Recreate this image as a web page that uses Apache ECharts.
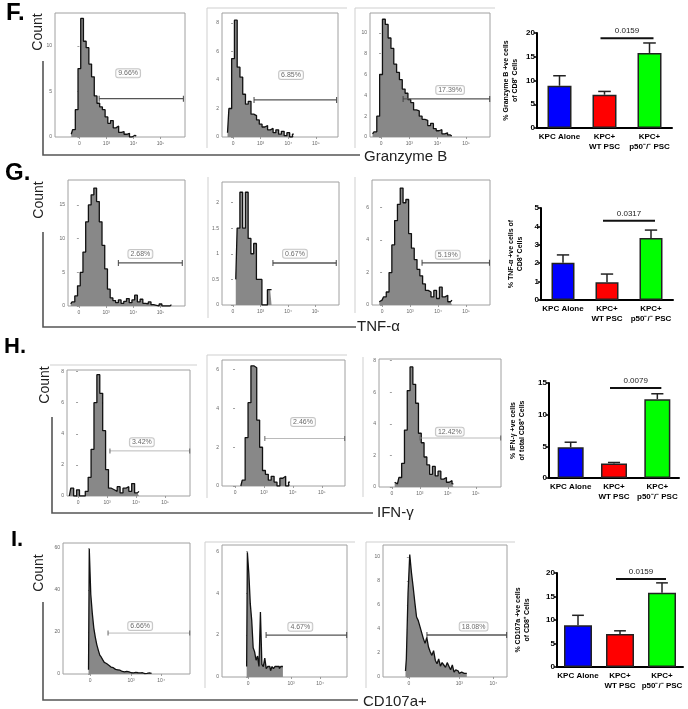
<!DOCTYPE html>
<html><head><meta charset="utf-8">
<script src="https://cdn.jsdelivr.net/npm/echarts@6/dist/echarts.min.js"></script>
<style>html,body{margin:0;padding:0;background:#fff}#c{width:688px;height:709px}</style>
</head><body><div id="c"></div>
<script>
// ================= DATA =================
// Histogram tick labels
const histTickLabels = ['0', '10³', '10⁴', '10⁵'];
const histTickLabelsI = ['0', '10³', '10⁴'];
const histTickPos = [0, 1, 2, 3];
const histTickPosI1 = [0, 1.37, 2.37];
const histTickPosI23 = [0, 1.48, 2.48];

// Histogram counts (bin start / bin width given separately)
const histF1 = [0.3,0.8,3,7.5,13,10.5,9.8,8,6.6,4.5,3.7,3.3,3,2.2,1.5,1.8,1,1.2,0.5,0.6,0.3,0.4,0,0.2,0.1];
const histF2 = [0.3,2,5.5,8.2,4.9,4.2,3,2.3,2.5,1.6,1.5,1.2,0.9,0.7,0.8,0.5,0.6,0.3,0.5,0.2,0.4,0.1,0.3,0,0.2];
const histF3 = [0.3,0.5,2,6,11.3,10.8,9.5,8.5,7,6.2,5.5,4.6,4.2,3.6,3.3,2.6,2.5,2.0,1.7,1.6,1.1,1.3,0.8,0.6,0.7,0.3,0.4,0.2,0.1];
const histG1 = [0.3,0.6,1.5,3,5,8,12.5,15,16.5,17.5,15.5,12.5,9,5.5,2.5,1.2,0.8,0.5,0.9,0.4,0.7,1.1,0.5,0.9,1.6,0.6,1.0,0.4,0.3,0.6,0.2,0.1,0,0.3,0,0,0,0.2];
const histG2 = [0.5,1.5,2.2,1.5,2.2,1.3,1,1.2,0.5,0.5,0,0,0.3,0.3];
const histG3 = [0.2,0.3,0.5,0.8,2,3.7,5.2,6.2,7.2,6.3,6.5,4.4,3.5,2.8,2.2,1.8,1.3,0.9,0.8,0.5,0.9,0.4,1.1,0.5,0.6,0.2,0.3];
const histH1 = [0,0.5,0,0.4,0,0,0.3,1.2,3,6,7.8,6.6,4.2,1.7,0.5,0.4,0.3,0.6,0.2,0.5,0.6,0.3,0.8,0.2,0.3];
const histH2 = [0,0.3,2.5,4.3,6.2,6.1,3.4,2,0.8,0.6,0.3,0.5,0.2,0,0.4,0.5,0,0.2];
const histH3 = [0.3,0.2,0.6,1.5,3.6,6.1,7.6,6.5,5.3,3.4,2.8,1.9,1.4,0.8,1.3,0.7,1.0,0.5,0.6,0.3,0.4,0.2];
const histI1 = [2,59.5,38,29,22,17.6,14,11.4,9,8,6.7,5.5,5,4.2,3.8,3.3,3,2.5,2.2,2,1.5,1.8,1.2,1.5,1,1.2,0.8,1,0.6,0.9,0.5,0.8,0.4,0.6,0.5,0.3,0.6,0.2,0.4,0.3,0.5,0.2,0.3];
const histI2 = [0.5,5.95,4.95,3.5,2.7,1.4,1.2,0.8,1,0.5,3.1,0.6,0.5,0.9,0.4,0.5,0.5,0.3,0.5,0.4,0.5,0.5,0.5,0.4,0.5,0.5];
const histI3 = [0.5,1.5,7,10.2,8.7,7.5,6.2,5,4.7,4.2,3.7,3.2,2.8,3.3,2.5,2.1,1.8,2.2,1.4,1.1,1.5,0.9,1.2,1.0,0.8,1.2,0.9,0.6,1.0,0.4,0.6,0.5,0.3,0.4,0.3,0.2,0.3];
const histBinStart = [-0.3,-0.2,-0.3, -0.3,0.1,-0.1, -0.3,0.2,0.1, -0.05,-0.05,-0.1];
const histBinWidth = [0.1,0.1,0.1, 0.1,0.1,0.1, 0.1,0.1,0.1, 0.05,0.05,0.05];

// Gates (start, end, level) and percentages
const gateStart = [0.73,0.76,0.78, 1.45,1.45,1.43, 1.1,1.03,1.0, 0.6,0.62,0.53];
const gateEnd   = [3.84,3.75,3.84, 3.8,3.75,3.84, 3.85,3.79,3.89, 3.32,3.4,2.87];
const gateLevel = [4.2,2.6,3.65, 6.4,0.82,2.6, 2.9,2.45,3.1, 19.5,2.0,3.5];
const gatePct = ['9.66%','6.85%','17.39%', '2.68%','0.67%','5.19%', '3.42%','2.46%','12.42%', '6.66%','4.67%','18.08%'];

// Bar charts
const categories = ['KPC Alone', 'KPC+\nWT PSC', 'KPC+\np50⁻/⁻ PSC'];
const granzymeMean = [8.9, 7.0, 15.8];
const granzymeErr  = [2.1, 0.7, 2.1];
const tnfMean = [2.03, 0.96, 3.37];
const tnfErr  = [0.42, 0.45, 0.43];
const ifnMean = [4.85, 2.27, 12.45];
const ifnErr  = [0.8, 0.18, 0.85];
const cd107Mean = [8.9, 7.0, 15.8];
const cd107Err  = [2.1, 0.7, 2.1];
const pValues = ['0.0159', '0.0317', '0.0079', '0.0159'];
const sigLevel = [18.9, 4.31, 14.2, 18.7];

const panelLetters = ['F.', 'G.', 'H.', 'I.'];
const markerNames = ['Granzyme B', 'TNF-α', 'IFN-γ', 'CD107a+'];
const barYNames = ['% Granzyme B +ve cells\nof CD8⁺ Cells', '% TNF-α +ve cells of\nCD8⁺ Cells',
                   '% IFN-γ +ve cells\nof total CD8⁺ Cells', '% CD107a +ve cells\nof CD8⁺ Cells'];

// ================= LAYOUT =================
const FONT = 'Liberation Sans, Arial, sans-serif';
const histCounts = [histF1,histF2,histF3,histG1,histG2,histG3,histH1,histH2,histH3,histI1,histI2,histI3];
const histLayout = [
  {g:[55,13,130,124],  x:[-0.9,3.9],  y:[13.6,5],  t:histTickPos, l:histTickLabels, lab:[1.8,7.0]},
  {g:[222,13,116,124], x:[-0.4,3.8],  y:[8.7,2],   t:histTickPos, l:histTickLabels, lab:[2.1,4.35]},
  {g:[370,13,120,124], x:[-0.39,3.85],y:[11.9,2],  t:histTickPos, l:histTickLabels, lab:[2.44,4.5]},
  {g:[68,180,117,126], x:[-0.4,3.9],  y:[18.7,5],  t:histTickPos, l:histTickLabels, lab:[2.26,7.7]},
  {g:[222,182,117,123],x:[-0.4,3.85], y:[2.4,0.5], t:histTickPos, l:histTickLabels, lab:[2.25,1.0]},
  {g:[372,180,118,125],x:[-0.36,3.86],y:[7.7,2],   t:histTickPos, l:histTickLabels, lab:[2.35,3.1]},
  {g:[67,370,123,126], x:[-0.38,3.86],y:[8.1,2],   t:histTickPos, l:histTickLabels, lab:[2.2,3.45], light:true},
  {g:[222,360,123,126],x:[-0.45,3.8], y:[6.5,2],   t:histTickPos, l:histTickLabels, lab:[2.35,3.3], light:true},
  {g:[379,359,122,128],x:[-0.46,3.9], y:[8.1,2],   t:histTickPos, l:histTickLabels, lab:[2.07,3.5], light:true},
  {g:[63,543,127,131], x:[-0.9,3.33], y:[62.4,20], t:histTickPosI1, l:histTickLabelsI, lab:[1.67,22.9], light:true},
  {g:[222,545,125,132],x:[-0.9,3.41], y:[6.3,2],   t:histTickPosI23, l:histTickLabelsI, lab:[1.8,2.4]},
  {g:[383,545,124,132],x:[-0.76,2.88],y:[11,2],    t:histTickPosI23, l:histTickLabelsI, lab:[1.9,4.2]}
];

const barDefs = [
  {mean:granzymeMean, err:granzymeErr, max:20, int:5, g:[537,33,135,95],  bw:24, gap:17},
  {mean:tnfMean,      err:tnfErr,      max:5,  int:1, g:[541,208,132,92], bw:23, gap:16},
  {mean:ifnMean,      err:ifnErr,      max:15, int:5, g:[549,383,130,95], bw:26, gap:22},
  {mean:cd107Mean,    err:cd107Err,    max:20, int:5, g:[557,573,126,94], bw:28, gap:25}
];
const barColors = ['#0000ff', '#ff0000', '#00ff00'];

const grids = [], xAxes = [], yAxes = [], series = [];

histLayout.forEach((h, i) => {
  grids.push({left:h.g[0], top:h.g[1], width:h.g[2], height:h.g[3], show:true,
    borderColor:'#a0a0a0', borderWidth:1, backgroundColor:'#fff', containLabel:false});
  xAxes.push({type:'value', gridIndex:i, min:h.x[0], max:h.x[1],
    axisLine:{show:false}, splitLine:{show:false},
    axisTick:{show:true, customValues:h.t, length:2, lineStyle:{color:'#888', width:0.8}},
    axisLabel:{customValues:h.t, formatter:(v) => h.l[h.t.indexOf(v)] || '', fontSize:5, color:'#666', margin:4, fontFamily:FONT}});
  yAxes.push({type:'value', gridIndex:i, min:0, max:h.y[0], interval:h.y[1],
    axisLine:{show:false}, splitLine:{show:false},
    axisTick:{show:true, length:2, lineStyle:{color:'#888', width:0.8}},
    axisLabel:{fontSize:5, color:'#666', margin:3, showMaxLabel:false, fontFamily:FONT}});
  const counts = histCounts[i];
  series.push({type:'line', xAxisIndex:i, yAxisIndex:i, silent:true, symbol:'none', step:'middle',
    data: counts.map((c, k) => [+(histBinStart[i] + k * histBinWidth[i]).toFixed(3), c]),
    lineStyle:{color:'#111', width:1.3}, areaStyle:{color:'#888', opacity:1}, z:2});
  const gc = h.light ? '#a8a8a8' : '#555';
  series.push({type:'line', xAxisIndex:i, yAxisIndex:i, silent:true,
    data:[[gateStart[i], gateLevel[i]], [gateEnd[i], gateLevel[i]]],
    symbol:'rect', symbolSize:[1, h.light ? 5 : 6], showSymbol:true,
    itemStyle:{color: h.light ? '#666' : '#444'},
    lineStyle:{color:gc, width: h.light ? 0.8 : 1.3}, z:3});
  series.push({type:'scatter', xAxisIndex:i, yAxisIndex:i, silent:true, symbolSize:0,
    data:[[h.lab[0], h.lab[1]]],
    label:{show:true, position:'inside', formatter:gatePct[i], fontSize:7, color:'#444', fontFamily:FONT,
      backgroundColor:'#fff', borderColor:'#b8b8b8', borderWidth:1, borderRadius:2, padding:[1,2,0,2]}, z:4});
});

barDefs.forEach((b, j) => {
  const gi = histLayout.length + j;
  grids.push({left:b.g[0], top:b.g[1], width:b.g[2], height:b.g[3], containLabel:false});
  xAxes.push({type:'category', gridIndex:gi, data:categories,
    axisLine:{lineStyle:{color:'#000', width:2}}, axisTick:{show:false},
    axisLabel:{interval:0, fontSize:8, fontWeight:'bold', color:'#000', lineHeight:10, margin:4, fontFamily:FONT}});
  yAxes.push({type:'value', gridIndex:gi, min:0, max:b.max, interval:b.int,
    name:barYNames[j], nameLocation:'middle', nameRotate:90, nameGap:b.gap,
    nameTextStyle:{fontSize:7, fontWeight:'bold', color:'#000', lineHeight:9, fontFamily:FONT},
    axisLine:{show:true, lineStyle:{color:'#000', width:2}},
    axisTick:{show:true, length:3, lineStyle:{color:'#000', width:1.5}},
    splitLine:{show:false},
    axisLabel:{fontSize:8, fontWeight:'bold', color:'#000', margin:2, fontFamily:FONT}});
  series.push({type:'bar', xAxisIndex:gi, yAxisIndex:gi, barWidth:b.bw, silent:true,
    data:b.mean.map((v, k) => ({value:v, itemStyle:{color:barColors[k]}})),
    itemStyle:{borderColor:'#222', borderWidth:1.5}, z:2});
  series.push({type:'custom', xAxisIndex:gi, yAxisIndex:gi, silent:true, z:3,
    data:b.mean.map((v, k) => [k, v, v + b.err[k]]),
    encode:{x:0, y:[1,2]},
    renderItem:(params, api) => {
      const lo = api.coord([api.value(0), api.value(1)]);
      const hi = api.coord([api.value(0), api.value(2)]);
      const hw = api.size([1, 0])[0] * 0.14;
      return {type:'group', children:[
        {type:'line', shape:{x1:lo[0], y1:lo[1], x2:hi[0], y2:hi[1]}, style:{stroke:'#222', lineWidth:1.5}},
        {type:'line', shape:{x1:hi[0]-hw, y1:hi[1], x2:hi[0]+hw, y2:hi[1]}, style:{stroke:'#222', lineWidth:1.5}}
      ]};
    }});
  series.push({type:'custom', xAxisIndex:gi, yAxisIndex:gi, silent:true, z:4,
    data:[[1, 2, sigLevel[j]]], encode:{x:[0,1], y:2},
    renderItem:(params, api) => {
      const a = api.coord([api.value(0), api.value(2)]);
      const c = api.coord([api.value(1), api.value(2)]);
      return {type:'group', children:[
        {type:'line', shape:{x1:a[0]-4, y1:a[1], x2:c[0]+4, y2:c[1]}, style:{stroke:'#111', lineWidth:2}},
        {type:'text', x:(a[0]+c[0])/2, y:a[1]-3, style:{text:pValues[j], fill:'#222', fontSize:8,
          fontFamily:FONT, align:'center', verticalAlign:'bottom'}}
      ]};
    }});
});

// Decorations (panel letters, "Count", marker brackets, panel frames)
const letterPos = [[6,1,24],[5,161,24],[4,336,22],[11,529,22]];
const countPos = [[38,32],[39,200],[45,385],[39,573]];
const brackets = [
  [[43,61],[43,155],[360,155]],
  [[43,232],[43,327],[356,327]],
  [[52,417],[52,513],[373,513]],
  [[43,602],[43,700],[358,700]]
];
const markerPos = [[364,157],[357,327],[377,513],[363,702]];
const frames = [
  [[207,148],[207,8],[347,8]], [[355,148],[355,8],[495,8]],
  [[208,318],[208,177]], [[355,313],[355,177]],
  [[50,365],[197,365]], [[207,498],[207,355],[347,355]], [[363,497],[363,357]],
  [[205,688],[205,542],[355,542]], [[366,688],[366,542],[515,542]]
];
const graphic = [];
frames.forEach(p => graphic.push({type:'polyline', shape:{points:p}, style:{stroke:'#cfcfcf', lineWidth:1, fill:null}, silent:true}));
brackets.forEach(p => graphic.push({type:'polyline', shape:{points:p}, style:{stroke:'#555', lineWidth:1.6, fill:null}, silent:true}));
panelLetters.forEach((t, i) => graphic.push({type:'text', x:letterPos[i][0], y:letterPos[i][1],
  style:{text:t, fontSize:letterPos[i][2], fontWeight:'bold', fontFamily:FONT, fill:'#000', verticalAlign:'top'}}));
countPos.forEach(p => graphic.push({type:'text', x:p[0], y:p[1], rotation:Math.PI/2,
  style:{text:'Count', fontSize:14, fontFamily:FONT, fill:'#222', align:'center', verticalAlign:'middle'}}));
markerNames.forEach((t, i) => graphic.push({type:'text', x:markerPos[i][0], y:markerPos[i][1],
  style:{text:t, fontSize:15, fontFamily:FONT, fill:'#222', verticalAlign:'middle'}}));

const chart = echarts.init(document.getElementById('c'), null, {renderer:'canvas'});
chart.setOption({
  animation:false,
  backgroundColor:'#fff',
  textStyle:{fontFamily:FONT},
  grid:grids, xAxis:xAxes, yAxis:yAxes, series:series, graphic:graphic
});
</script>
</body></html>
